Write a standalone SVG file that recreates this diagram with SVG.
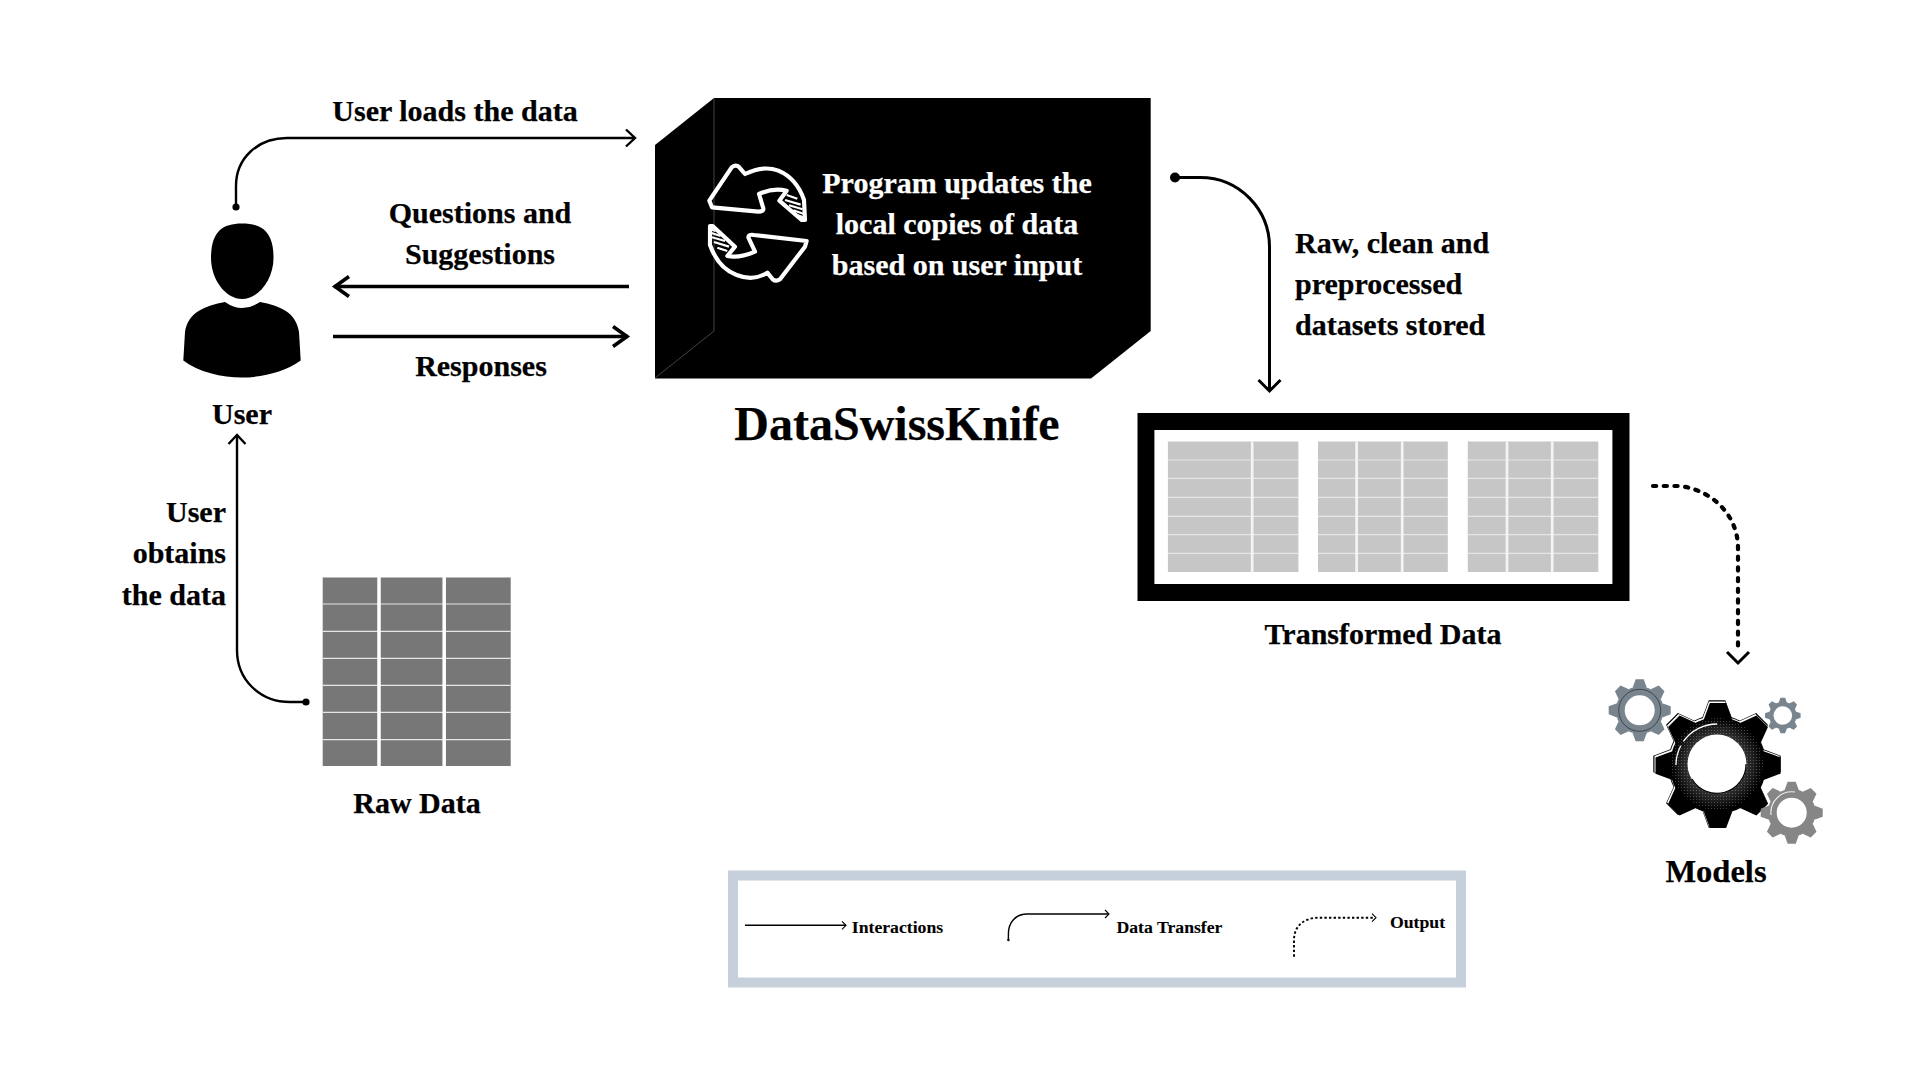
<svg xmlns="http://www.w3.org/2000/svg" width="1920" height="1080" viewBox="0 0 1920 1080">
<style>
text{font-family:"Liberation Serif","Times New Roman",serif;font-weight:700;fill:#000;stroke:#000;stroke-width:.25px}
.lb{font-size:30px}
.m{text-anchor:middle}
.e{text-anchor:end}
text.w{fill:#fff;stroke:#fff}
.lg{font-size:17.7px;stroke-width:.1px}
.c{fill:none;stroke:#000;stroke-width:2.4}
.c3{fill:none;stroke:#000;stroke-width:3}
.c4{fill:none;stroke:#000;stroke-width:3.4}
.t{fill:none;stroke:#000;stroke-width:1.4}
.dot{stroke-dasharray:3.2 7.5;stroke-linecap:round;stroke-width:4.2}
.dotl{fill:none;stroke:#000;stroke-width:1.9;stroke-dasharray:2.4 2.2}
.ico{fill:none;stroke:#fff;stroke-width:12.5;stroke-linejoin:round;stroke-linecap:round}
.hat{fill:none;stroke:#fff;stroke-width:6.5}
.rl{fill:none;stroke:#e6e6e6;stroke-width:1.2}
.cl{fill:none;stroke:#f4f4f4}
</style>
<defs>
<marker id="a" markerUnits="userSpaceOnUse" overflow="visible" orient="auto"><path d="M-9,-8.5L0,0L-9,8.5" fill="none" stroke="#000" stroke-width="2.4"/></marker>
<marker id="b" markerUnits="userSpaceOnUse" overflow="visible" orient="auto"><path d="M-15,-10L-1,0L-15,10" fill="none" stroke="#000" stroke-width="3.6"/></marker>
<marker id="d" markerUnits="userSpaceOnUse" overflow="visible" orient="auto"><path d="M-11,-11L0,0L-11,11" fill="none" stroke="#000" stroke-width="3"/></marker>
<marker id="s" markerUnits="userSpaceOnUse" overflow="visible" orient="auto"><path d="M-4,-4L0,0L-4,4" fill="none" stroke="#000" stroke-width="1.1"/></marker>
<polygon id="tooth" points="-23,-73 -13,-100 13,-100 23,-73"/>
<g id="gear"><circle r="77"/><use href="#tooth"/><use href="#tooth" transform="rotate(45)"/><use href="#tooth" transform="rotate(90)"/><use href="#tooth" transform="rotate(135)"/><use href="#tooth" transform="rotate(180)"/><use href="#tooth" transform="rotate(225)"/><use href="#tooth" transform="rotate(270)"/><use href="#tooth" transform="rotate(315)"/></g>
<radialGradient id="ring"><stop offset=".6" stop-color="#555"/><stop offset=".8" stop-color="#2c2c2c"/><stop offset="1" stop-color="#000"/></radialGradient>
<pattern id="stip" width="3" height="3" patternUnits="userSpaceOnUse"><rect width="3" height="3" fill="#000" fill-opacity=".35"/><rect x="1" y="1" width="1" height="1" fill="#fff" fill-opacity=".25"/></pattern>
</defs>
<rect width="1920" height="1080" fill="#fff"/>

<g id="connectors">
<circle cx="236" cy="207" r="3.6"/>
<path class="c" marker-end="url(#a)" d="M236,207V186C236,158 258,138 287,138H635"/>
<path class="c4" marker-end="url(#b)" d="M629,286.5H334"/>
<path class="c4" marker-end="url(#b)" d="M333,336.5H628"/>
<circle cx="306" cy="702" r="3.6"/>
<path class="c" marker-end="url(#a)" d="M306,702H290C260,702 237,680 237,650V435"/>
<circle cx="1175" cy="177.5" r="5"/>
<path class="c3" marker-end="url(#d)" d="M1175,177.5H1200C1240,177.5 1269.5,210 1269.5,247V391"/>
<path class="c dot" d="M1653,486H1680C1712,490 1738,515 1738,548V650"/>
<path d="M1727,652L1738,663L1749,652" fill="none" stroke="#000" stroke-width="3"/>
</g>

<g id="user">
<path d="M242,223.5C262,223.5 273.5,232 273.5,258C273.5,280 258,299 242,299C226,299 211,280 211,258C211,232 222,223.5 242,223.5Z"/>
<path d="M225,302Q242,314 260,302C280,306 296,312 299,332L300.7,360.5C285,372 262,377.5 242,377.5C222,377.5 198,372 183.3,360.5L185,332C188,312 205,306 225,302Z"/>
<text class="lb m" x="242" y="424">User</text>
</g>

<g id="dataswissknife">
<path d="M714,98H1150.7V331L1091,378.5H655V145Z"/>
<path d="M714,98V331L655,378" fill="none" stroke="#555" stroke-width=".8"/>
<g transform="translate(690,150) scale(.3333)">
<path class="ico" d="M66,172L58,152L125,52Q138,42 148,52L165,72Q220,45 265,62Q320,85 342,150L345,210L335,210L268,152L290,122Q250,112 207,132L220,175Q222,185 205,185Z"/>
<path class="ico" d="M350,273L345,290L270,388Q258,396 248,388L232,368Q190,395 140,375Q85,355 60,285L60,228L68,228L135,290L112,318Q150,325 195,305L175,262Q175,252 192,255Z"/>
<path class="hat" d="M290,135L322,146M285,150L332,164M297,166L338,178M310,181L342,192M324,196L344,203M112,303L82,293M117,290L72,276M105,273L66,262M92,258L62,248M77,243L60,238"/>
</g>
<text class="lb m w" x="957" y="193">Program updates the</text>
<text class="lb m w" x="957" y="234">local copies of data</text>
<text class="lb m w" x="957" y="275">based on user input</text>
<text class="m" style="font-size:48px" x="897" y="440">DataSwissKnife</text>
</g>

<g id="raw-data">
<rect x="322.7" y="577.5" width="188" height="188.5" fill="#777"/>
<path class="rl" d="M322.7,604H510.7M322.7,631.3H510.7M322.7,658.3H510.7M322.7,685.3H510.7M322.7,712.3H510.7M322.7,739.7H510.7"/>
<path fill="none" stroke="#fff" stroke-width="3.5" d="M379,577V766M444.2,577V766"/>
<text class="lb m" x="417" y="813">Raw Data</text>
</g>

<g id="transformed-data">
<rect x="1137.5" y="413" width="492" height="188"/>
<rect x="1154.4" y="430" width="458" height="154" fill="#fff"/>
<path fill="#c6c6c6" d="M1167.9,441.5H1298.4V572H1167.9ZM1318,441.5H1447.8V572H1318ZM1467.8,441.5H1598.3V572H1467.8Z"/>
<path class="rl" d="M1167.9,460H1298.4M1167.9,478.3H1298.4M1167.9,497.3H1298.4M1167.9,516.3H1298.4M1167.9,534.7H1298.4M1167.9,553.3H1298.4M1318,460H1447.8M1318,478.3H1447.8M1318,497.3H1447.8M1318,516.3H1447.8M1318,534.7H1447.8M1318,553.3H1447.8M1467.8,460H1598.3M1467.8,478.3H1598.3M1467.8,497.3H1598.3M1467.8,516.3H1598.3M1467.8,534.7H1598.3M1467.8,553.3H1598.3"/>
<path class="cl" stroke-width="2.7" d="M1252.2,441.5V572M1356.6,441.5V572M1402.2,441.5V572M1507,441.5V572M1552.2,441.5V572"/>
<text class="lb m" x="1383" y="644">Transformed Data</text>
</g>

<g id="models">
<use href="#gear" transform="translate(1639.7,710.3) scale(.31)" fill="#78858f"/>
<circle cx="1639.7" cy="710.3" r="21" fill="none" stroke="#333" stroke-width=".8"/>
<circle cx="1639.7" cy="710.3" r="15" fill="#fff"/>
<use href="#gear" transform="translate(1782.8,715.5) scale(.178)" fill="#78858f"/>
<circle cx="1782.8" cy="715.5" r="9.3" fill="#fff"/>
<use href="#gear" transform="translate(1717,764) scale(.637)" fill="#000"/>
<use href="#gear" transform="translate(1717,764) scale(.625)" fill="#fff"/>
<use href="#gear" transform="translate(1718,765.5) scale(.625)" fill="#000"/>
<circle cx="1717" cy="764" r="46" fill="url(#ring)"/>
<circle cx="1717" cy="764" r="46" fill="url(#stip)"/>
<path d="M1676,765A41,41 0 0 1 1717,724" fill="none" stroke="#fff" stroke-width="1.3" stroke-dasharray="20 5 50"/>
<circle cx="1717" cy="764" r="29.5" fill="#fff"/>
<path d="M1692,779A29,29 0 0 0 1746,764" fill="none" stroke="#000" stroke-width="1.2"/>
<use href="#gear" transform="translate(1791.7,812.7) scale(.31)" fill="#868686"/>
<circle cx="1791.7" cy="812.7" r="15" fill="#fff"/>
<path d="M1771,815A21,21 0 0 1 1795,792" fill="none" stroke="#eee" stroke-width="1.2"/>
<text class="m" style="font-size:32.5px" x="1716" y="882">Models</text>
</g>

<g id="labels">
<text class="lb m" x="455" y="121">User loads the data</text>
<text class="lb m" x="480" y="223">Questions and</text>
<text class="lb m" x="480" y="264">Suggestions</text>
<text class="lb m" x="481" y="376">Responses</text>
<text class="lb e" x="226" y="522">User</text>
<text class="lb e" x="226" y="563">obtains</text>
<text class="lb e" x="226" y="605">the data</text>
<text class="lb" x="1295" y="253">Raw, clean and</text>
<text class="lb" x="1295" y="294">preprocessed</text>
<text class="lb" x="1295" y="335">datasets stored</text>
</g>

<g id="legend">
<rect x="733" y="875.5" width="728" height="107" fill="#fff" stroke="#c5d0da" stroke-width="10"/>
<path class="t" marker-end="url(#s)" d="M745,925.3H846"/>
<text class="lg" x="851.8" y="932.7">Interactions</text>
<circle cx="1008.4" cy="940" r="1.2"/>
<path class="t" marker-end="url(#s)" d="M1008.4,940V934C1008.4,922 1016,914 1027,914H1109"/>
<text class="lg" x="1116.5" y="932.7">Data Transfer</text>
<path class="dotl" d="M1294,956.7V940C1294,926 1304,917.7 1319,917.7H1374"/>
<path d="M1372,913.7L1376,917.7L1372,921.7" fill="none" stroke="#000" stroke-width="1.1"/>
<text class="lg" x="1390" y="928">Output</text>
</g>
</svg>
